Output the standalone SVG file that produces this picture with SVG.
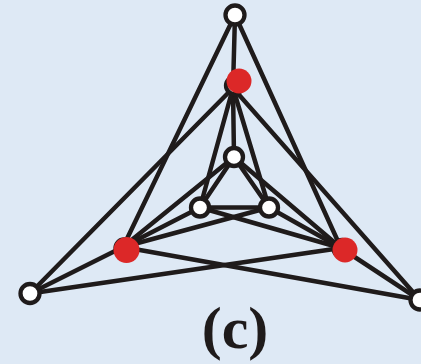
<svg xmlns="http://www.w3.org/2000/svg" width="421" height="364" viewBox="0 0 421 364">
<style>
.e{stroke:#1f1b1b;stroke-width:4.5;fill:none;stroke-linecap:round}
.n{fill:#ffffff;stroke:#1f1b1b;stroke-width:4.3}
.h{fill:#ffffff;stroke:#1f1b1b;stroke-width:4.3}
.r{fill:#dc2828;stroke:none}
.lbl{font-family:"Liberation Serif",serif;font-weight:bold;font-size:60px;fill:#1f1b1b}
</style>
<rect width="421" height="364" fill="#dee9f5"/>
<g id="edges">
<line class="e" x1="235" y1="15" x2="233" y2="88"/>
<line class="e" x1="235" y1="15" x2="123" y2="247"/>
<line class="e" x1="235" y1="15" x2="341" y2="248"/>
<line class="e" x1="30" y1="293.5" x2="233" y2="88"/>
<line class="e" x1="30" y1="293.5" x2="123" y2="247"/>
<line class="e" x1="30" y1="293.5" x2="341" y2="248"/>
<line class="e" x1="420" y1="300" x2="233" y2="88"/>
<line class="e" x1="420" y1="300" x2="123" y2="247"/>
<line class="e" x1="420" y1="300" x2="341" y2="248"/>
<line class="e" x1="233" y1="88" x2="234" y2="157"/>
<line class="e" x1="233" y1="88" x2="200" y2="207.5"/>
<line class="e" x1="233" y1="88" x2="269" y2="207.5"/>
<line class="e" x1="123" y1="247" x2="234" y2="157"/>
<line class="e" x1="123" y1="247" x2="200" y2="207.5"/>
<line class="e" x1="123" y1="247" x2="269" y2="207.5"/>
<line class="e" x1="341" y1="248" x2="234" y2="157"/>
<line class="e" x1="341" y1="248" x2="200" y2="207.5"/>
<line class="e" x1="341" y1="248" x2="269" y2="207.5"/>
<line class="e" x1="234" y1="157" x2="200" y2="207.5"/>
<line class="e" x1="200" y1="207.5" x2="269" y2="207.5"/>
<line class="e" x1="269" y1="207.5" x2="234" y2="157"/>
</g>
<g id="o1"><circle class="n" cx="235" cy="15" r="9.5"/></g>
<g id="o2"><circle class="n" cx="30" cy="293.5" r="9.5"/></g>
<g id="o3"><circle class="n" cx="420" cy="300" r="9.5"/></g>
<g id="i1"><circle class="n" cx="234" cy="157" r="9"/></g>
<g id="i2"><circle class="n" cx="200" cy="207.5" r="9"/></g>
<g id="i3"><circle class="n" cx="269" cy="207.5" r="9"/></g>
<g id="m1"><circle class="h" cx="234.5" cy="85.5" r="8.5"/><circle class="r" cx="239" cy="81" r="12.5"/></g>
<g id="m2"><circle class="h" cx="124" cy="248" r="8.5"/><circle class="r" cx="126.5" cy="250" r="13"/></g>
<g id="m3"><circle class="h" cx="342" cy="248.5" r="8.5"/><circle class="r" cx="345" cy="250" r="12.5"/></g>
<text class="lbl" x="235" y="348" text-anchor="middle">(c)</text>
</svg>
